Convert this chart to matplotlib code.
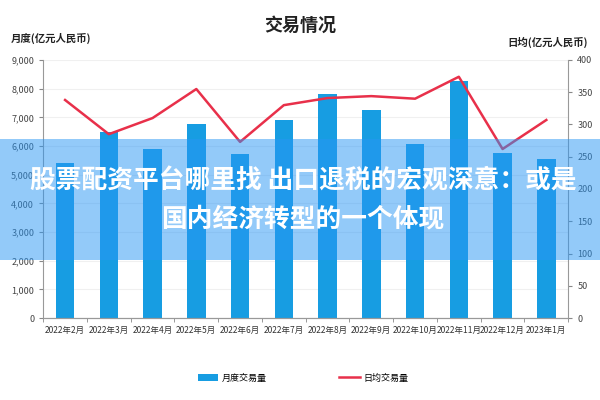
import matplotlib
matplotlib.use("Agg")
import matplotlib.pyplot as plt
from matplotlib.patches import Rectangle
import numpy as np

plt.rcParams['font.family'] = ['Noto Sans CJK SC', 'DejaVu Sans']

months = ["2022年2月", "2022年3月", "2022年4月", "2022年5月", "2022年6月", "2022年7月",
          "2022年8月", "2022年9月", "2022年10月", "2022年11月", "2022年12月", "2023年1月"]
monthly = [5400, 6480, 5890, 6760, 5710, 6900, 7800, 7250, 6060, 8260, 5750, 5540]
daily = [338, 285, 310, 355, 273, 330, 341, 344, 340, 374, 262, 307]

bar_color = "#179de2"
line_color = "#e8304a"

fig = plt.figure(figsize=(6, 4), dpi=100)
ax = fig.add_axes([0.072, 0.205, 0.875, 0.645])
ax2 = ax.twinx()

x = np.arange(len(months))
ax.bar(x, monthly, width=0.42, color=bar_color, label="月度交易量", zorder=2)
ax2.plot(x, daily, color=line_color, lw=1.8, label="日均交易量", zorder=3)

ax.set_xlim(-0.5, len(months) - 0.5)
ax.set_ylim(0, 9000)
ax2.set_ylim(0, 400)
ax.set_yticks(np.arange(0, 9001, 1000))
ax.set_yticklabels([f"{v:,}" for v in range(0, 9001, 1000)])
ax2.set_yticks(np.arange(0, 401, 50))
ax.set_xticks(x)
ax.set_xticklabels(months)
ax.set_xticks(np.arange(-0.5, len(months), 1), minor=True)
ax.tick_params(axis='x', which='major', length=0, labelsize=6.1, pad=6, colors="#333333")
ax.tick_params(axis='x', which='minor', length=3, color="#888888")
ax.tick_params(axis='y', labelsize=6.5, length=3, color="#888888", colors="#444444")
ax2.tick_params(axis='y', labelsize=6.5, length=3, color="#888888", colors="#444444")
ax.grid(axis='y', color="#f0f0f0", lw=0.8, zorder=0)
ax.set_axisbelow(True)
for a in (ax, ax2):
    a.spines['top'].set_visible(False)
    a.spines['left'].set_color("#999999")
    a.spines['right'].set_color("#999999")
    a.spines['bottom'].set_color("#999999")
ax2.spines['left'].set_visible(False)
ax.spines['right'].set_visible(False)

fig.text(0.5, 0.936, "交易情况", ha='center', va='center', fontsize=13, fontweight='bold', color="#222222")
fig.text(0.018, 0.905, "月度(亿元人民币)", ha='left', va='center', fontsize=7.5, fontweight='bold', color="#222222")
fig.text(0.98, 0.895, "日均(亿元人民币)", ha='right', va='center', fontsize=7.5, fontweight='bold', color="#222222")

h1, l1 = ax.get_legend_handles_labels()
h2, l2 = ax2.get_legend_handles_labels()
fig.legend(h1 + h2, l1 + l2, loc='center', bbox_to_anchor=(0.505, 0.055), ncol=2,
           frameon=False, fontsize=6.5, columnspacing=8, handlelength=2.3, handletextpad=0.4)

# overlay banner
fig.patches.append(Rectangle((0, 0.35), 1, 0.303, transform=fig.transFigure,
                             facecolor=(40/255, 150/255, 245/255), alpha=0.5,
                             edgecolor='none', zorder=10))
fig.text(0.505, 0.548, "股票配资平台哪里找 出口退税的宏观深意：或是", ha='center', va='center',
         fontsize=18.5, fontweight='bold', color='white', zorder=11)
fig.text(0.505, 0.452, "国内经济转型的一个体现", ha='center', va='center',
         fontsize=18.5, fontweight='bold', color='white', zorder=11)

fig.savefig("out.png", dpi=100)
